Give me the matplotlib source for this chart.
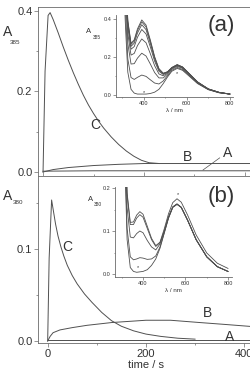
import matplotlib
matplotlib.use("Agg")
import matplotlib.pyplot as plt
from matplotlib.ticker import MultipleLocator

plt.rcParams["font.family"] = ["Liberation Sans", "DejaVu Sans"]

LINE = "#505050"
FRAME = "#6a6a6a"
TXT = "#333333"

# ── Panel (a): kinetics at 385 nm ─────────────────────────
t_a_C = [0, 4, 10, 14, 20, 30, 40, 50, 60, 70, 80, 90, 100, 110, 120, 135,
         150, 165, 180, 195, 210, 230]
A_a_C = [0.0, 0.25, 0.388, 0.395, 0.378, 0.345, 0.31, 0.277, 0.246, 0.217,
         0.19, 0.166, 0.145, 0.126, 0.109, 0.087, 0.068, 0.052, 0.039, 0.029,
         0.023, 0.021]
t_a_B = [0, 20, 50, 100, 150, 200, 250, 300, 350, 420]
A_a_B = [0.0, 0.006, 0.011, 0.016, 0.019, 0.021, 0.021, 0.021, 0.021, 0.021]
t_a_A = [0, 100, 200, 300, 420]
A_a_A = [0.002, 0.003, 0.003, 0.003, 0.003]

# ── Panel (b): kinetics at 380 nm ─────────────────────────
t_b_C = [0, 3, 8, 12, 16, 21, 27, 33, 40, 50, 60, 75, 90, 110, 130, 150, 175,
         200, 230, 265, 300]
A_b_C = [0.0, 0.09, 0.153, 0.14, 0.127, 0.114, 0.102, 0.092, 0.082, 0.071,
         0.062, 0.051, 0.042, 0.031, 0.022, 0.016, 0.011, 0.0075, 0.005,
         0.003, 0.002]
t_b_B = [0, 5, 11, 25, 50, 80, 130, 200, 250, 310, 360, 420]
A_b_B = [0.0, 0.005, 0.009, 0.012, 0.0145, 0.017, 0.020, 0.0225, 0.0225,
         0.020, 0.018, 0.0155]
t_b_A = [0, 100, 200, 300, 420]
A_b_A = [0.0015, 0.0015, 0.0015, 0.0015, 0.0015]

# ── Inset (a): spectra ────────────────────────────────────
lam_a = [305, 315, 325, 340, 355, 370, 390, 410, 430, 450, 470, 490, 510,
         530, 555, 580, 610, 650, 700, 750, 800]
spec_a = [
    [0.951, 0.652, 0.393, 0.272, 0.291, 0.348, 0.395, 0.368, 0.289, 0.202, 0.139,
     0.115, 0.122, 0.145, 0.160, 0.148, 0.114, 0.069, 0.032, 0.014, 0.005],
    [0.942, 0.644, 0.386, 0.266, 0.284, 0.339, 0.385, 0.358, 0.282, 0.197, 0.136,
     0.113, 0.122, 0.144, 0.159, 0.147, 0.113, 0.068, 0.032, 0.014, 0.005],
    [0.929, 0.632, 0.376, 0.256, 0.273, 0.326, 0.370, 0.344, 0.271, 0.190, 0.132,
     0.111, 0.121, 0.143, 0.158, 0.146, 0.113, 0.068, 0.032, 0.014, 0.005],
    [0.906, 0.612, 0.358, 0.241, 0.255, 0.304, 0.345, 0.321, 0.253, 0.178, 0.125,
     0.108, 0.119, 0.142, 0.157, 0.145, 0.112, 0.067, 0.031, 0.014, 0.005],
    [0.861, 0.572, 0.323, 0.210, 0.219, 0.260, 0.295, 0.275, 0.217, 0.154, 0.111,
     0.101, 0.115, 0.140, 0.155, 0.143, 0.110, 0.066, 0.031, 0.013, 0.005],
    [0.794, 0.512, 0.271, 0.163, 0.165, 0.194, 0.220, 0.205, 0.163, 0.118, 0.090,
     0.090, 0.110, 0.136, 0.151, 0.140, 0.108, 0.065, 0.030, 0.013, 0.005],
    [0.690, 0.420, 0.190, 0.092, 0.082, 0.093, 0.105, 0.098, 0.080, 0.063, 0.058,
     0.074, 0.102, 0.130, 0.145, 0.134, 0.104, 0.062, 0.029, 0.012, 0.005],
    [0.600, 0.340, 0.120, 0.030, 0.010, 0.005, 0.005, 0.005, 0.008, 0.015, 0.030,
     0.060, 0.095, 0.125, 0.140, 0.130, 0.100, 0.060, 0.028, 0.012, 0.005],
]

# ── Inset (b): spectra ────────────────────────────────────
lam_b = [305, 315, 325, 340, 355, 370, 385, 400, 420, 440, 460, 480, 500, 520,
         540, 560, 580, 610, 650, 700, 750, 800]
spec_b = [
    [0.526, 0.362, 0.189, 0.120, 0.121, 0.137, 0.145, 0.139, 0.111, 0.083, 0.066,
     0.074, 0.105, 0.140, 0.166, 0.175, 0.167, 0.137, 0.091, 0.049, 0.025, 0.013],
    [0.520, 0.356, 0.184, 0.115, 0.115, 0.130, 0.138, 0.132, 0.106, 0.080, 0.064,
     0.073, 0.100, 0.133, 0.156, 0.163, 0.155, 0.125, 0.080, 0.040, 0.017, 0.006],
    [0.486, 0.326, 0.154, 0.086, 0.084, 0.094, 0.100, 0.096, 0.078, 0.063, 0.056,
     0.070, 0.099, 0.132, 0.156, 0.163, 0.155, 0.125, 0.080, 0.040, 0.017, 0.006],
    [0.430, 0.276, 0.106, 0.040, 0.033, 0.035, 0.038, 0.037, 0.034, 0.035, 0.042,
     0.063, 0.096, 0.130, 0.155, 0.162, 0.155, 0.125, 0.080, 0.040, 0.017, 0.006],
    [0.400, 0.250, 0.080, 0.015, 0.006, 0.004, 0.005, 0.006, 0.010, 0.020, 0.035,
     0.060, 0.095, 0.130, 0.155, 0.162, 0.155, 0.125, 0.080, 0.040, 0.017, 0.006],
]


def style_axes(ax, size, major, minor_len):
    for sp in ax.spines.values():
        sp.set_color(FRAME)
        sp.set_linewidth(0.6)
    ax.tick_params(which="both", direction="out", colors=FRAME, labelcolor=TXT,
                   labelsize=size, width=0.5, length=major, pad=1)
    ax.tick_params(which="minor", length=minor_len)


fig = plt.figure(figsize=(2.5, 3.75), dpi=100)

# main panels (right edge runs past the figure, as in the original)
ax1 = fig.add_axes([0.152, 0.5307, 0.864, 0.4507])
ax2 = fig.add_axes([0.152, 0.0853, 0.864, 0.4453])

for ax, (tC, AC, tB, AB, tA, AA) in [
        (ax1, (t_a_C, A_a_C, t_a_B, A_a_B, t_a_A, A_a_A)),
        (ax2, (t_b_C, A_b_C, t_b_B, A_b_B, t_b_A, A_b_A))]:
    ax.plot(tC, AC, color=LINE, lw=0.7)
    ax.plot(tB, AB, color=LINE, lw=0.7)
    ax.plot(tA, AA, color=LINE, lw=0.7)
    style_axes(ax, 8, 3, 1.5)
    ax.xaxis.set_major_locator(MultipleLocator(200))
    ax.xaxis.set_minor_locator(MultipleLocator(100))

ax1.set_xlim(-10, 418)
ax1.set_ylim(-0.0099, 0.409)
ax1.set_yticks([0.0, 0.2, 0.4])
ax1.yaxis.set_minor_locator(MultipleLocator(0.1))
ax1.tick_params(axis="x", which="both", direction="in", labelbottom=False)

ax2.set_xlim(-19.7, 420)
ax2.set_ylim(-0.0022, 0.179)
ax2.set_yticks([0.0, 0.1])
ax2.yaxis.set_minor_locator(MultipleLocator(0.05))
ax2.set_xlabel("time / s", fontsize=8, color=TXT, labelpad=1)

# curve labels
ax1.text(103, 0.117, "C", fontsize=10, color=TXT, ha="center", va="center")
ax1.text(287, 0.037, "B", fontsize=10, color=TXT, ha="center", va="center")
ax1.text(366, 0.047, "A", fontsize=10, color=TXT, ha="center", va="center")
ax1.plot([350, 317], [0.035, 0.005], color=LINE, lw=0.5)
ax2.text(39, 0.102, "C", fontsize=10, color=TXT, ha="center", va="center")
ax2.text(326, 0.030, "B", fontsize=10, color=TXT, ha="center", va="center")
ax2.text(371, 0.0043, "A", fontsize=10, color=TXT, ha="center", va="center")

# y labels A with subscripts
fig.text(0.012, 0.915, "A", fontsize=10, color=TXT, va="center")
fig.text(0.040, 0.887, "385", fontsize=4.5, color=TXT, va="center")
fig.text(0.012, 0.477, "A", fontsize=10, color=TXT, va="center")
fig.text(0.052, 0.461, "380", fontsize=4.5, color=TXT, va="center")

# ── Insets (only left and bottom axes, transparent) ───────
in1 = fig.add_axes([0.464, 0.7413, 0.468, 0.2187])
for s in spec_a:
    in1.plot(lam_a, s, color=LINE, lw=0.6)
in1.set_xlim(270, 815)
in1.set_ylim(-0.0105, 0.421)
in1.set_yticks([0.0, 0.2, 0.4])
in1.yaxis.set_minor_locator(MultipleLocator(0.1))
in1.text(400, 0.014, "*", fontsize=4, color=TXT, ha="center", va="center")
in1.text(552, 0.114, "*", fontsize=4, color=TXT, ha="center", va="center")
fig.text(0.345, 0.915, "A", fontsize=5.5, color=TXT, va="center")
fig.text(0.372, 0.900, "385", fontsize=3.5, color=TXT, va="center")

in2 = fig.add_axes([0.46, 0.2613, 0.468, 0.24])
for s in spec_b:
    in2.plot(lam_b, s, color=LINE, lw=0.6)
in2.set_xlim(268, 819)
in2.set_ylim(-0.007, 0.2023)
in2.set_yticks([0.0, 0.1, 0.2])
in2.yaxis.set_minor_locator(MultipleLocator(0.05))
in2.text(378, 0.014, "*", fontsize=4, color=TXT, ha="center", va="center")
in2.text(563, 0.185, "*", fontsize=4, color=TXT, ha="center", va="center")
fig.text(0.352, 0.467, "A", fontsize=5.5, color=TXT, va="center")
fig.text(0.376, 0.455, "380", fontsize=3.5, color=TXT, va="center")

for ax in (in1, in2):
    style_axes(ax, 4, 2, 1)
    ax.patch.set_alpha(0)
    ax.spines["top"].set_visible(False)
    ax.spines["right"].set_visible(False)
    ax.xaxis.set_major_locator(MultipleLocator(200))
    ax.xaxis.set_minor_locator(MultipleLocator(100))
    ax.set_xlabel("λ / nm", fontsize=4.5, color=TXT, labelpad=1)

# panel letters on top of everything
fig.text(0.885, 0.932, "(a)", fontsize=16, color=TXT, ha="center", va="center",
         zorder=10)
fig.text(0.885, 0.475, "(b)", fontsize=16, color=TXT, ha="center", va="center",
         zorder=10)

fig.savefig("out.png", dpi=100)
